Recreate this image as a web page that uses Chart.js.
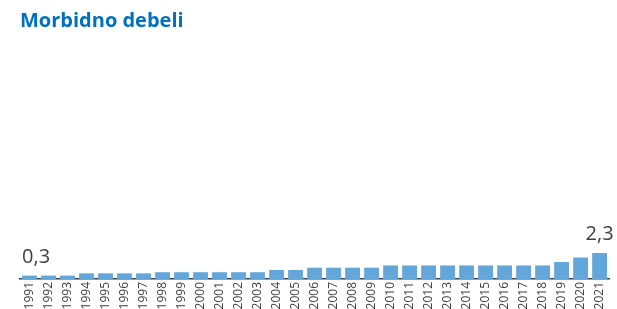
<!DOCTYPE html>
<html><head><meta charset="utf-8">
<script src="https://cdn.jsdelivr.net/npm/chart.js@4/dist/chart.umd.min.js"></script>
<style>html,body{margin:0;padding:0;background:#fff}#wrap{width:617px;height:309px}</style>
</head><body><div id="wrap"><canvas id="c" width="617" height="309"></canvas></div>
<script>
const years = ["1991","1992","1993","1994","1995","1996","1997","1998","1999","2000","2001","2002","2003","2004","2005","2006","2007","2008","2009","2010","2011","2012","2013","2014","2015","2016","2017","2018","2019","2020","2021"];
const values = [0.3,0.3,0.3,0.5,0.5,0.5,0.5,0.6,0.6,0.6,0.6,0.6,0.6,0.8,0.8,1.0,1.0,1.0,1.0,1.2,1.2,1.2,1.2,1.2,1.2,1.2,1.2,1.2,1.5,1.9,2.3];
const labeledIdx = [0, 30];
const titleText = "Morbidno debeli";

const labelPlugin = {
  id: 'endLabels',
  afterDatasetsDraw(chart) {
    const ctx = chart.ctx;
    const meta = chart.getDatasetMeta(0);
    ctx.save();
    ctx.font = '20px "Open Sans", sans-serif';
    ctx.fillStyle = '#404040';
    ctx.textBaseline = 'alphabetic';
    labeledIdx.forEach(i => {
      const el = meta.data[i];
      const txt = values[i].toFixed(1).replace('.', ',');
      const w = ctx.measureText(txt).width;
      let x = el.x - w / 2;
      if (x + w > chart.width) x = chart.width - w + 2;
      if (i === 0) x = el.x - el.width / 2;
      ctx.fillText(txt, x, el.y - 13);
    });
    ctx.restore();
  }
};

new Chart(document.getElementById('c'), {
  type: 'bar',
  data: { labels: years, datasets: [{ data: values, backgroundColor: '#62A6DA', barPercentage: 0.78, categoryPercentage: 1.0 }] },
  options: {
    responsive: false, animation: false,
    layout: { padding: { left: 20, right: 0, top: 0, bottom: 0 } },
    plugins: {
      legend: { display: false }, tooltip: { enabled: false },
      title: { display: true, text: titleText, align: 'start', color: '#0070C0',
        font: { family: '"Open Sans", sans-serif', size: 20, weight: 'bold' },
        padding: { top: 9, bottom: 20 } }
    },
    scales: {
      x: { grid: { display: false, drawTicks: false, tickLength: 0 }, border: { display: true, color: '#404040', width: 1.5 },
        afterFit(scale) { scale.height = 30; },
        ticks: { minRotation: 90, maxRotation: 90, autoSkip: false, color: '#404040', padding: 3,
          font: { family: '"Open Sans", sans-serif', size: 12 } } },
      y: { display: false, min: 0, max: 20 }
    }
  },
  plugins: [labelPlugin]
});
</script></body></html>
